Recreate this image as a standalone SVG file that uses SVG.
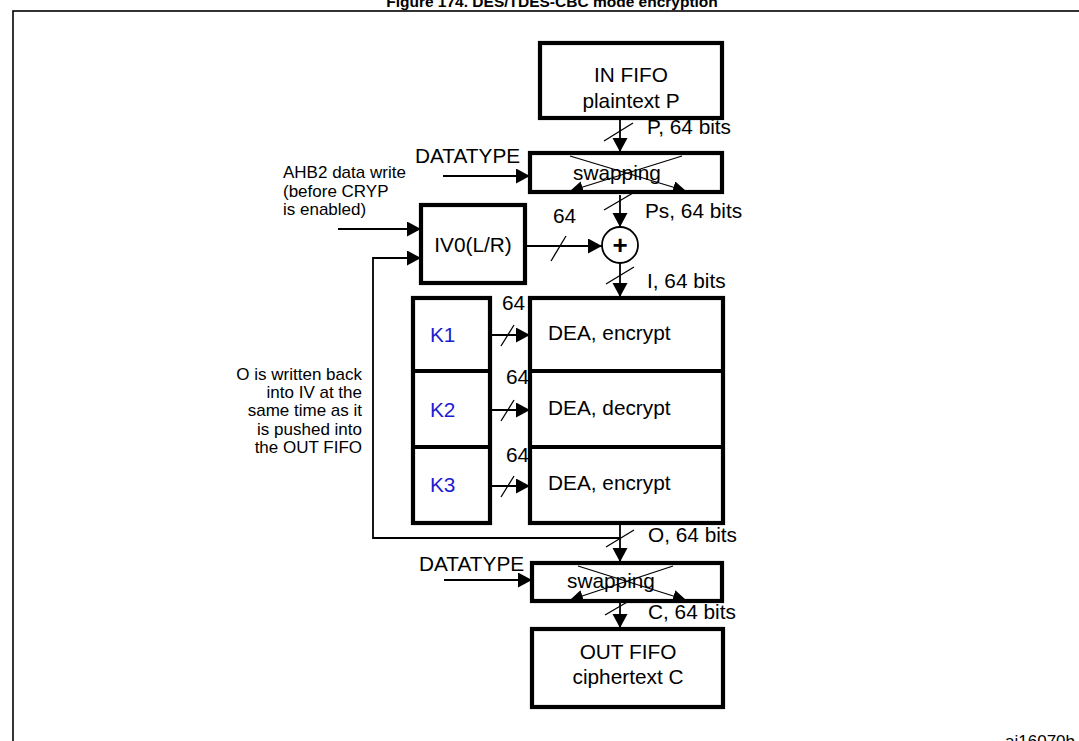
<svg xmlns="http://www.w3.org/2000/svg" width="1079" height="741" viewBox="0 0 1079 741">
<style>
text{font-family:"Liberation Sans",Arial,sans-serif;fill:#000}
.t20{font-size:20.8px}
.t17{font-size:17px}
.mid{text-anchor:middle}
.end{text-anchor:end}
.box{fill:#fff;stroke:#000;stroke-width:4.2}
.ln{fill:none;stroke:#000;stroke-width:1.8}
.thin{fill:none;stroke:#000;stroke-width:1.3}
.key{fill:#1c1cd0}
</style>
<defs>
<marker id="ah" markerUnits="userSpaceOnUse" markerWidth="16" markerHeight="16" refX="14" refY="7.5" orient="auto">
<path d="M0,0 L14,7.5 L0,15 z" fill="#000"/>
</marker>
<marker id="sh" markerUnits="userSpaceOnUse" markerWidth="14" markerHeight="12" refX="13" refY="6" orient="auto">
<path d="M0,0 L13,6 L0,12 z" fill="#000"/>
</marker>
</defs>
<rect width="1079" height="741" fill="#fff"/>
<text x="552" y="7" class="mid" style="font-size:15.5px;font-weight:bold">Figure 174. DES/TDES-CBC mode encryption</text>
<rect x="13" y="11" width="1080" height="745" fill="none" stroke="#000" stroke-width="1.6"/>

<g id="connectors">
<line class="ln" x1="620" y1="120" x2="620" y2="152" marker-end="url(#ah)"/>
<line class="thin" x1="604" y1="141" x2="633" y2="123"/>
<line class="ln" x1="443" y1="176" x2="530" y2="176" marker-end="url(#ah)"/>
<line class="ln" x1="620" y1="195" x2="620" y2="227" marker-end="url(#ah)"/>
<line class="thin" x1="604" y1="210" x2="633" y2="193"/>
<line class="ln" x1="338" y1="229" x2="421" y2="229" marker-end="url(#ah)"/>
<polyline class="ln" points="620,538 373,538 373,258 421,258" marker-end="url(#ah)"/>
<line class="ln" x1="527" y1="246" x2="602" y2="246" marker-end="url(#ah)"/>
<line class="thin" x1="551" y1="261" x2="566" y2="236"/>
<line class="ln" x1="620" y1="263" x2="620" y2="297" marker-end="url(#ah)"/>
<line class="thin" x1="606" y1="284" x2="634" y2="267"/>
<line class="ln" x1="491" y1="335" x2="530" y2="335" marker-end="url(#ah)"/>
<line class="thin" x1="501" y1="346" x2="514" y2="325"/>
<line class="ln" x1="491" y1="410" x2="530" y2="410" marker-end="url(#ah)"/>
<line class="thin" x1="501" y1="421" x2="514" y2="400"/>
<line class="ln" x1="491" y1="486" x2="530" y2="486" marker-end="url(#ah)"/>
<line class="thin" x1="501" y1="497" x2="514" y2="476"/>
<line class="ln" x1="620" y1="525" x2="620" y2="562" marker-end="url(#ah)"/>
<line class="thin" x1="606" y1="547" x2="634" y2="530"/>
<line class="ln" x1="444" y1="580" x2="532" y2="580" marker-end="url(#ah)"/>
<line class="ln" x1="620" y1="603" x2="620" y2="628" marker-end="url(#ah)"/>
<line class="thin" x1="605" y1="615" x2="629" y2="601"/>
</g>

<g id="in-fifo">
<rect class="box" x="540" y="43" width="182" height="75"/>
<text x="631" y="82" class="t20 mid">IN FIFO</text>
<text x="631" y="108" class="t20 mid">plaintext P</text>
</g>
<text x="647" y="134" class="t20">P, 64 bits</text>

<g id="swap1">
<rect class="box" x="530" y="153" width="192" height="39"/>
<text x="617" y="180" class="t20 mid">swapping</text>
<line class="thin" x1="570" y1="156" x2="686" y2="191" marker-end="url(#sh)"/>
<line class="thin" x1="682" y1="156" x2="570" y2="191" marker-end="url(#sh)"/>
</g>
<text x="415" y="163" class="t20">DATATYPE</text>
<text x="645" y="218" class="t20">Ps, 64 bits</text>

<g id="ahb2-note">
<text x="283" y="178" class="t17">AHB2 data write</text>
<text x="283" y="197" class="t17">(before CRYP</text>
<text x="283" y="215" class="t17">is enabled)</text>
</g>

<g id="iv0">
<rect class="box" x="421" y="205" width="104" height="78"/>
<text x="473" y="252" class="t20 mid">IV0(L/R)</text>
</g>
<text x="553" y="223" class="t20">64</text>

<g id="xor">
<circle cx="620" cy="245" r="18" fill="#fff" stroke="#000" stroke-width="1.8"/>
<text x="620" y="254" class="mid" style="font-size:26px;font-weight:bold">+</text>
</g>
<text x="647" y="288" class="t20">I, 64 bits</text>

<g id="keys">
<rect class="box" x="413" y="298" width="77" height="225"/>
<line stroke="#000" stroke-width="4.2" x1="413" y1="371" x2="490" y2="371"/>
<line stroke="#000" stroke-width="4.2" x1="413" y1="447" x2="490" y2="447"/>
<text x="430" y="342" class="t20 key">K1</text>
<text x="430" y="417" class="t20 key">K2</text>
<text x="430" y="492" class="t20 key">K3</text>
</g>

<g id="dea">
<rect class="box" x="530" y="298" width="193" height="225"/>
<line stroke="#000" stroke-width="4.2" x1="530" y1="371" x2="723" y2="371"/>
<line stroke="#000" stroke-width="4.2" x1="530" y1="447" x2="723" y2="447"/>
<text x="548" y="340" class="t20">DEA, encrypt</text>
<text x="548" y="415" class="t20">DEA, decrypt</text>
<text x="548" y="490" class="t20">DEA, encrypt</text>
</g>
<text x="502" y="310" class="t20">64</text>
<text x="506" y="384" class="t20">64</text>
<text x="506" y="462" class="t20">64</text>

<g id="feedback-note">
<text x="362" y="380" class="t17 end">O is written back</text>
<text x="362" y="398" class="t17 end">into IV at the</text>
<text x="362" y="416" class="t17 end">same time as it</text>
<text x="362" y="435" class="t17 end">is pushed into</text>
<text x="362" y="453" class="t17 end">the OUT FIFO</text>
</g>
<text x="648" y="542" class="t20">O, 64 bits</text>

<g id="swap2">
<rect class="box" x="532" y="563" width="190" height="38"/>
<text x="611" y="588" class="t20 mid">swapping</text>
<line class="thin" x1="578" y1="566" x2="686" y2="600" marker-end="url(#sh)"/>
<line class="thin" x1="673" y1="566" x2="570" y2="600" marker-end="url(#sh)"/>
</g>
<text x="419" y="571" class="t20">DATATYPE</text>
<text x="648" y="619" class="t20">C, 64 bits</text>

<g id="out-fifo">
<rect class="box" x="532" y="629" width="191" height="78"/>
<text x="628" y="659" class="t20 mid">OUT FIFO</text>
<text x="628" y="684" class="t20 mid">ciphertext C</text>
</g>

<text x="1075" y="747" class="end" style="font-size:17px">ai16070b</text>
</svg>
